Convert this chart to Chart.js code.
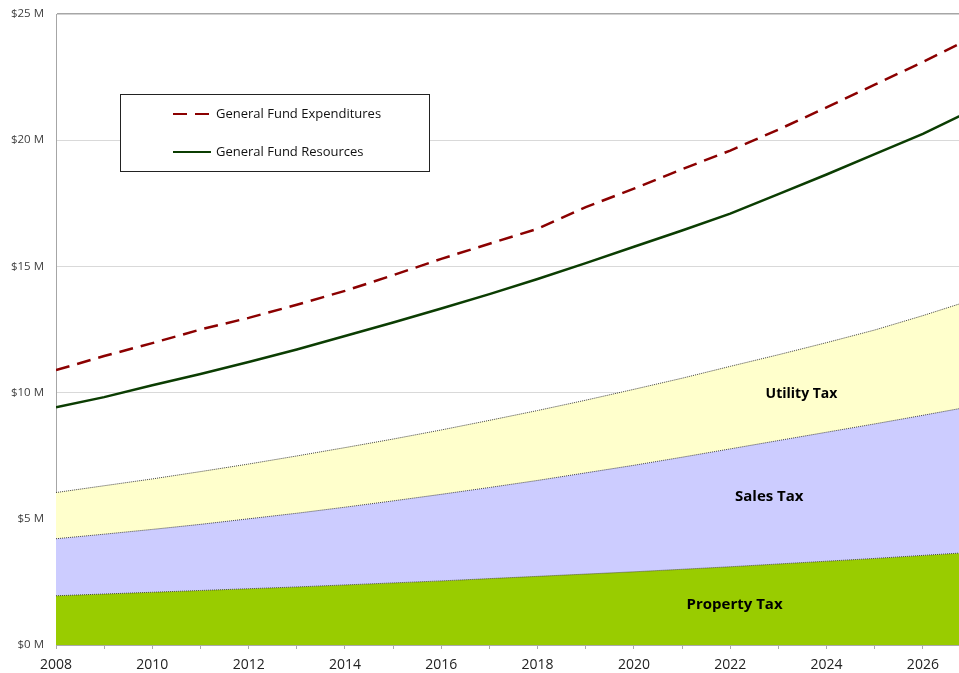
<!DOCTYPE html>
<html>
<head>
<meta charset="utf-8">
<script src="https://cdn.jsdelivr.net/npm/chart.js@4.4.1/dist/chart.umd.min.js"></script>
<style>
  html, body { margin: 0; padding: 0; background: #fff; }
  #wrap { width: 959px; height: 673px; }
</style>
</head>
<body>
<div id="wrap"><canvas id="fundChart"></canvas></div>
<script>
const years = [2008, 2009, 2010, 2011, 2012, 2013, 2014, 2015, 2016, 2017,
               2018, 2019, 2020, 2021, 2022, 2023, 2024, 2025, 2026, 2027];
// $ millions
const propertyTax = [1.95, 2.02, 2.09, 2.16, 2.23, 2.30, 2.38, 2.46, 2.54, 2.63,
                     2.72, 2.81, 2.90, 3.00, 3.10, 3.21, 3.32, 3.43, 3.55, 3.67];
const salesTax = [2.26, 2.37, 2.49, 2.62, 2.77, 2.92, 3.08, 3.25, 3.43, 3.61,
                  3.80, 4.01, 4.22, 4.44, 4.67, 4.89, 5.11, 5.33, 5.55, 5.78];
const utilityTax = [1.83, 1.92, 2.00, 2.09, 2.17, 2.27, 2.36, 2.45, 2.55, 2.66,
                    2.77, 2.88, 3.01, 3.13, 3.27, 3.40, 3.55, 3.72, 3.95, 4.21];
const expenditures = [10.89, 11.45, 11.96, 12.50, 12.96, 13.48, 14.03, 14.65, 15.30, 15.90,
                      16.49, 17.35, 18.08, 18.85, 19.59, 20.42, 21.30, 22.20, 23.10, 24.05];
const resources = [9.42, 9.82, 10.29, 10.74, 11.21, 11.71, 12.24, 12.78, 13.33, 13.90,
                   14.50, 15.13, 15.78, 16.42, 17.09, 17.86, 18.64, 19.45, 20.25, 21.18];
const yTicks = [0, 5, 10, 15, 20, 25];

const FONT = "'Open Sans', 'DejaVu Sans', sans-serif";
const toPoints = vals => years.map((yr, i) => ({ x: yr, y: vals[i] }));

// labels written inside the stacked areas (data coordinates)
const areaLabels = [
    { text: 'Utility Tax', x: 2023.48, y: 9.94, size: 14 },
    { text: 'Sales Tax', x: 2022.81, y: 5.88, size: 15 },
    { text: 'Property Tax', x: 2022.09, y: 1.59, size: 15 }
];

const areaLabelPlugin = {
    id: 'areaLabels',
    afterDatasetsDraw(chart) {
        const { ctx, scales: { x, y } } = chart;
        ctx.save();
        ctx.fillStyle = '#000';
        ctx.textAlign = 'center';
        ctx.textBaseline = 'middle';
        areaLabels.forEach(l => {
            ctx.font = 'bold ' + l.size + 'px ' + FONT;
            ctx.fillText(l.text, x.getPixelForValue(l.x), y.getPixelForValue(l.y));
        });
        ctx.restore();
    }
};

// boxed legend for the two lines, sitting inside the plot
const boxLegendPlugin = {
    id: 'boxLegend',
    afterDraw(chart) {
        const ctx = chart.ctx;
        const lines = chart.data.datasets.filter(d => d.showInLegend);
        ctx.save();
        ctx.fillStyle = '#fff';
        ctx.fillRect(120.5, 94.5, 309, 77);
        ctx.strokeStyle = '#222';
        ctx.lineWidth = 1;
        ctx.strokeRect(120.5, 94.5, 309, 77);
        ctx.font = '13px ' + FONT;
        ctx.textBaseline = 'middle';
        lines.forEach((d, i) => {
            const yy = 114 + i * 38;
            ctx.beginPath();
            ctx.strokeStyle = d.borderColor;
            ctx.lineWidth = 2;
            ctx.setLineDash(d.borderDash || []);
            ctx.moveTo(173, yy);
            ctx.lineTo(211, yy);
            ctx.stroke();
            ctx.setLineDash([]);
            ctx.fillStyle = '#111';
            ctx.fillText(d.label, 216, yy);
        });
        ctx.restore();
    }
};

const areaBorder = { borderColor: '#444', borderWidth: 1, borderDash: [1, 1] };

new Chart(document.getElementById('fundChart').getContext('2d'), {
    type: 'line',
    data: {
        datasets: [
            {
                label: 'General Fund Expenditures',
                data: toPoints(expenditures),
                stack: 'exp',
                borderColor: '#8b0000',
                borderWidth: 2.5,
                borderDash: [14, 8],
                pointRadius: 0,
                fill: false,
                showInLegend: true
            },
            {
                label: 'General Fund Resources',
                data: toPoints(resources),
                stack: 'res',
                borderColor: '#0b3d02',
                borderWidth: 2.5,
                pointRadius: 0,
                fill: false,
                showInLegend: true
            },
            {
                label: 'Property Tax',
                data: toPoints(propertyTax),
                stack: 'taxes',
                backgroundColor: '#99cc00',
                ...areaBorder,
                pointRadius: 0,
                fill: 'origin'
            },
            {
                label: 'Sales Tax',
                data: toPoints(salesTax),
                stack: 'taxes',
                backgroundColor: '#ccccff',
                ...areaBorder,
                pointRadius: 0,
                fill: '-1'
            },
            {
                label: 'Utility Tax',
                data: toPoints(utilityTax),
                stack: 'taxes',
                backgroundColor: '#ffffcc',
                ...areaBorder,
                pointRadius: 0,
                fill: '-1'
            }
        ]
    },
    options: {
        responsive: true,
        maintainAspectRatio: false,
        animation: false,
        layout: { padding: { top: 14, right: 0, left: 0, bottom: 0 } },
        scales: {
            x: {
                type: 'linear',
                min: 2008,
                max: 2026.75,
                afterFit: s => {
                    s.height = 28;
                    s.paddingLeft = 0;
                    s.paddingRight = 0;
                },
                ticks: {
                    stepSize: 1,
                    includeBounds: false,
                    autoSkip: false,
                    maxRotation: 0,
                    padding: 8,
                    color: '#222',
                    font: { size: 14, family: FONT },
                    callback: v => (v % 2 === 0 ? String(v) : '')
                },
                grid: {
                    drawOnChartArea: false,
                    drawTicks: true,
                    tickLength: 4,
                    color: '#aaa'
                },
                border: { color: '#aaa' }
            },
            y: {
                stacked: true,
                min: 0,
                max: 25,
                afterFit: s => {
                    s.width = 56;
                    s.paddingTop = 0;
                    s.paddingBottom = 0;
                },
                afterBuildTicks: s => { s.ticks = yTicks.map(v => ({ value: v })); },
                ticks: {
                    padding: 12,
                    color: '#404040',
                    font: { size: 11.5, family: FONT },
                    callback: v => '$' + v + ' M'
                },
                grid: {
                    drawTicks: false,
                    color: c => (c.tick.value === 25 ? '#a6a6a6' : '#d9d9d9'),
                    lineWidth: c => (c.tick.value === 25 ? 1.5 : 1)
                },
                border: { color: '#a6a6a6' }
            }
        },
        plugins: {
            legend: { display: false },
            tooltip: { enabled: false },
            title: { display: false }
        }
    },
    plugins: [areaLabelPlugin, boxLegendPlugin]
});
</script>
</body>
</html>
